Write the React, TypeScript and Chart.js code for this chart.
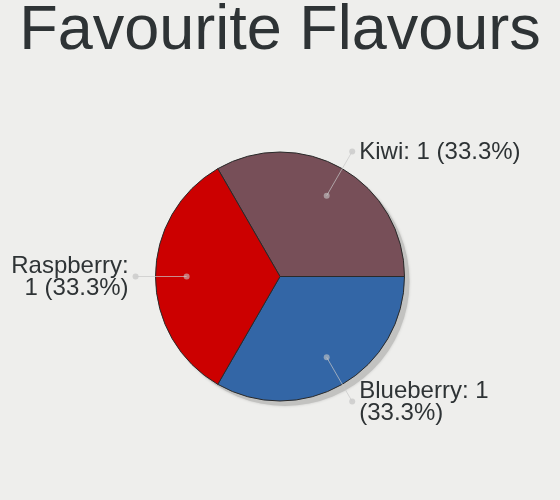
import React, { useEffect, useRef } from "react";
import { Chart, registerables } from "chart.js";

Chart.register(...registerables);

const titleText = "Favourite Flavours";
const flavours = ["Kiwi", "Blueberry", "Raspberry"];
const votes = [1, 1, 1];
const sliceColors = ["#774f58", "#3366a6", "#cc0000"];
const labelLines: string[][] = [
  ["Kiwi: 1 (33.3%)"],
  ["Blueberry: 1", "(33.3%)"],
  ["Raspberry:", "1 (33.3%)"],
];

const BG = "#eeeeec";
const TEXT = "#2e3335";
const FONT = '"Liberation Sans", Arial, sans-serif';

const bgPlugin = {
  id: "bgPlugin",
  beforeDraw(chart: any) {
    const { ctx, width, height } = chart;
    ctx.save();
    ctx.fillStyle = BG;
    ctx.fillRect(0, 0, width, height);
    ctx.fillStyle = TEXT;
    ctx.font = `63px ${FONT}`;
    ctx.textAlign = "center";
    ctx.textBaseline = "alphabetic";
    ctx.fillText(titleText, width / 2, 49);
    ctx.restore();
  },
};

const shadowPlugin = {
  id: "shadowPlugin",
  beforeDatasetsDraw(chart: any) {
    const meta = chart.getDatasetMeta(0);
    const arc = meta.data[0];
    if (!arc) return;
    const { x, y, outerRadius } = arc.getProps(["x", "y", "outerRadius"], true);
    const ctx = chart.ctx;
    ctx.save();
    ctx.shadowColor = "rgba(0,0,0,0.15)";
    ctx.shadowBlur = 3;
    ctx.fillStyle = "#c2c2c0";
    ctx.beginPath();
    ctx.arc(x + 5, y + 5, outerRadius, 0, Math.PI * 2);
    ctx.fill();
    ctx.restore();
  },
};

const labelPlugin = {
  id: "labelPlugin",
  afterDatasetsDraw(chart: any) {
    const meta = chart.getDatasetMeta(0);
    const ctx = chart.ctx;
    const fontSize = 24;
    const lineH = 22;
    ctx.save();
    meta.data.forEach((arc: any, i: number) => {
      const { x, y, startAngle, endAngle, outerRadius } = arc.getProps(
        ["x", "y", "startAngle", "endAngle", "outerRadius"],
        true
      );
      const mid = (startAngle + endAngle) / 2;
      const c = Math.cos(mid);
      const s = Math.sin(mid);
      const ix = x + c * outerRadius * 0.75;
      const iy = y + s * outerRadius * 0.75;
      const ox = x + c * outerRadius * 1.16;
      const oy = y + s * outerRadius * 1.16;
      ctx.strokeStyle = "rgba(200,200,200,0.7)";
      ctx.lineWidth = 1;
      ctx.beginPath();
      ctx.moveTo(ix, iy);
      ctx.lineTo(ox, oy);
      ctx.stroke();
      ctx.fillStyle = "rgba(200,200,200,0.6)";
      ctx.beginPath();
      ctx.arc(ix, iy, 3, 0, Math.PI * 2);
      ctx.fill();
      ctx.fillStyle = "rgba(205,205,205,0.9)";
      ctx.beginPath();
      ctx.arc(ox, oy, 3, 0, Math.PI * 2);
      ctx.fill();

      const lines = labelLines[i];
      const right = c < 0;
      ctx.fillStyle = TEXT;
      ctx.font = `${fontSize}px ${FONT}`;
      ctx.textAlign = right ? "right" : "left";
      ctx.textBaseline = "middle";
      const tx = right ? ox - 7 : ox + 7;
      const top = oy - ((lines.length - 1) * lineH) / 2;
      lines.forEach((ln, k) => {
        ctx.fillText(ln, tx, top + k * lineH + 1);
      });
    });
    ctx.restore();
  },
};

export default function App() {
  const ref = useRef<HTMLCanvasElement | null>(null);
  useEffect(() => {
    document.body.style.margin = "0";
    document.body.style.background = BG;
    if (!ref.current) return;
    const chart = new Chart(ref.current, {
      type: "pie",
      data: {
        labels: flavours,
        datasets: [
          {
            data: votes,
            backgroundColor: sliceColors,
            borderColor: "#2a2a2a",
            borderWidth: 1,
          },
        ],
      },
      options: {
        responsive: false,
        animation: false,
        rotation: -30,
        layout: { padding: { left: 155, right: 155, top: 151, bottom: 98 } },
        plugins: {
          legend: { display: false },
          tooltip: { enabled: false },
          title: { display: false },
        },
      },
      plugins: [bgPlugin, shadowPlugin, labelPlugin],
    });
    return () => chart.destroy();
  }, []);
  return <canvas ref={ref} width={560} height={500} style={{ display: "block" }} />;
}
